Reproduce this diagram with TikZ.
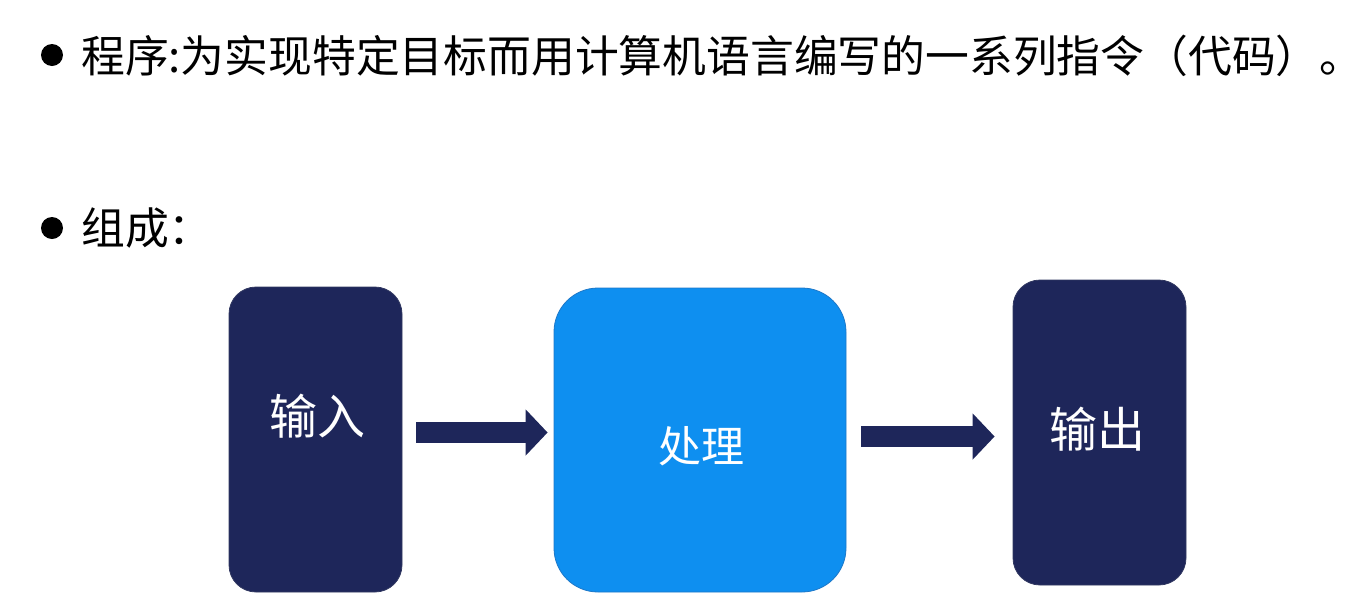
\documentclass[tikz,border=0pt]{standalone}
\usepackage{fontspec}
\setmainfont{Noto Sans CJK SC}
\usetikzlibrary{arrows.meta}
\definecolor{navy}{RGB}{30,38,90}
\definecolor{procblue}{RGB}{14,143,240}
\definecolor{procedge}{RGB}{30,120,200}
\tikzset{
  darkbox/.style={draw=navy!80!gray, line width=0.8pt, fill=navy, rounded corners=27pt,
    minimum width=173pt, minimum height=305pt, inner sep=0pt},
  procbox/.style={draw=procedge, line width=0.8pt, fill=procblue, rounded corners=44pt,
    minimum width=292pt, minimum height=304pt, inner sep=0pt},
  boxtext/.style={text=white, inner sep=0pt},
  bodytext/.style={anchor=west, inner sep=0pt, font=\fontsize{43.8pt}{50pt}\selectfont},
  bulletdot/.style={circle, fill=black, minimum size=22pt, inner sep=0pt},
  blockarrow/.style={draw=navy, line width=21pt, -{Triangle[width=45pt,length=22pt]}}
}
\begin{document}
\begin{tikzpicture}[x=1pt,y=-1pt]
\useasboundingbox (0,0) rectangle (1368,606);
\node[bulletdot] (b1) at (52,55) {};
\node[bodytext] (t1) at (81,56) {程序:为实现特定目标而用计算机语言编写的一系列指令（代码）。};
\node[bulletdot] (b2) at (52,228) {};
\node[bodytext] (t2) at (81,228) {组成：};

\node[darkbox] (in) at (315.5,439.5) {};
\node[procbox] (proc) at (700,440) {};
\node[darkbox] (out) at (1099.5,432.5) {};

\node[boxtext, font=\fontsize{48pt}{54pt}\selectfont] (intext) at (317,416) {输入};
\node[boxtext, font=\fontsize{43pt}{50pt}\selectfont] (proctext) at (701,446) {处理};
\node[boxtext, font=\fontsize{48pt}{54pt}\selectfont] (outtext) at (1097,429) {输出};

\draw[blockarrow, shorten <=14pt, shorten >=6pt] (in.east |- 0,432.5) -- (proc.west |- 0,432.5);
\draw[blockarrow, shorten <=15pt, shorten >=18pt] (proc.east |- 0,436.5) -- (out.west |- 0,436.5);
\end{tikzpicture}
\end{document}
